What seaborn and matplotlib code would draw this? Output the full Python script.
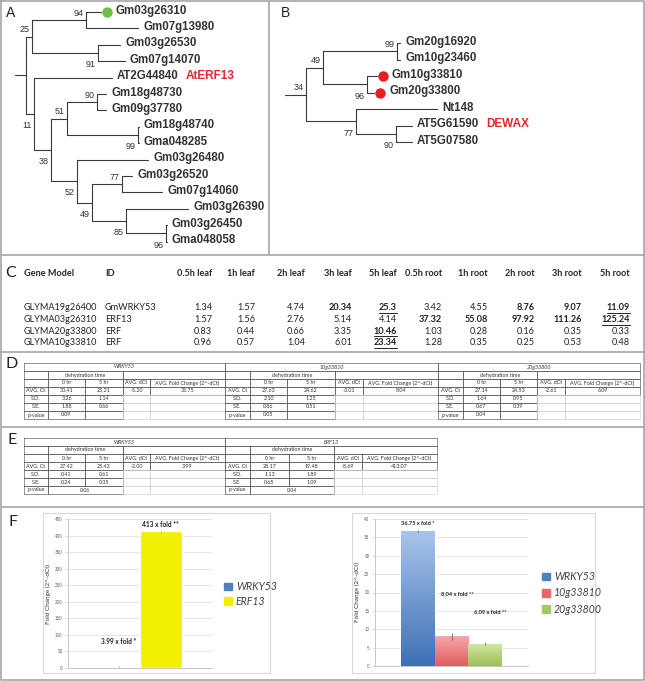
import numpy as np
import pandas as pd
import matplotlib
matplotlib.use("Agg")
import matplotlib.pyplot as plt
import seaborn as sns
from matplotlib.patches import Patch
from matplotlib.colors import LinearSegmentedColormap

# ---------------- data ----------------
# trees: (support, branch length, children) / (leaf name, branch length)
tree_a = ("", 11, [
    ("25", 6, [
        ("94", 54, [("Gm03g26310", 15), ("Gm07g13980", 52)]),
        ("91", 66, [("Gm03g26530", 22), ("Gm07g14070", 27)]),
    ]),
    ("11", 8, [
        ("AT2G44840", 78),
        ("38", 17, [
            ("51", 16, [
                ("90", 30, [("Gm18g48730", 9), ("Gm09g37780", 9)]),
                ("99", 71, [("Gm18g48740", 1), ("Gma048285", 1)]),
            ]),
            ("52", 26, [
                ("Gm03g26480", 71),
                ("49", 15, [
                    ("77", 30, [("Gm03g26520", 10), ("Gm07g14060", 40)]),
                    ("85", 34, [
                        ("Gm03g26390", 62),
                        ("96", 40, [("Gm03g26450", 1), ("Gma048058", 1)]),
                    ]),
                ]),
            ]),
        ]),
    ]),
])
tree_b = ("34", 21, [
    ("49", 17, [
        ("99", 74, [("Gm20g16920", 3), ("Gm10g23460", 3)]),
        ("96", 44, [("Gm10g33810", 10), ("Gm20g33800", 7)]),
    ]),
    ("77", 50, [
        ("Nt148", 81),
        ("90", 40, [("AT5G61590", 16), ("AT5G07580", 16)]),
    ]),
])
marked_leaves = {"Gm03g26310": "#6DBE45", "Gm10g33810": "#E61E25", "Gm20g33800": "#E61E25"}
ref_names = {"AT2G44840": "AtERF13", "AT5G61590": "DEWAX"}

# panel C
c_header = ["0.5h leaf", "1h leaf", "2h leaf", "3h leaf", "5h leaf",
            "0.5h root", "1h root", "2h root", "3h root", "5h root"]
gene_models = ["GLYMA19g26400", "GLYMA03g26310", "GLYMA20g33800", "GLYMA10g33810"]
gene_ids = ["GmWRKY53", "ERF13", "ERF", "ERF"]
expr = [
    [1.34, 1.57, 4.74, 20.34, 25.3, 3.42, 4.55, 8.76, 9.07, 11.09],
    [1.57, 1.56, 2.76, 5.14, 4.14, 37.32, 55.08, 97.92, 111.26, 125.24],
    [0.83, 0.44, 0.66, 3.35, 10.46, 1.03, 0.28, 0.16, 0.35, 0.33],
    [0.96, 0.57, 1.04, 6.01, 23.34, 1.28, 0.35, 0.25, 0.53, 0.48],
]
# 0 plain, 1 bold, 2 bold + underline
expr_mark = [
    [0, 0, 0, 1, 2, 0, 0, 1, 1, 2],
    [0, 0, 0, 0, 0, 1, 1, 1, 1, 2],
    [0, 0, 0, 0, 2, 0, 0, 0, 0, 0],
    [0, 0, 0, 0, 2, 0, 0, 0, 0, 0],
]

# panel D (leaf dehydration)
d_genes = ["WRKY53", "10g33810", "20g33800"]
d_ct0 = [30.41, 27.63, 27.14]
d_ct5 = [25.21, 24.62, 24.53]
d_dct = [-5.20, -3.01, -2.61]
d_fold = [36.75, 8.04, 6.09]
d_sd0 = [3.26, 2.10, 1.64]
d_sd5 = [1.14, 1.25, 0.95]
d_se0 = [1.88, 0.86, 0.67]
d_se5 = [0.66, 0.51, 0.39]
d_p = [0.09, 0.05, 0.04]

# panel E (root dehydration)
e_genes = ["WRKY53", "ERF13"]
e_ct0 = [27.42, 28.17]
e_ct5 = [25.42, 19.48]
e_dct = [-2.00, -8.69]
e_fold = [3.99, 413.07]
e_sd0 = [0.41, 1.13]
e_sd5 = [0.61, 1.89]
e_se0 = [0.24, 0.65]
e_se5 = [0.35, 1.09]
e_p = [0.06, 0.04]

# panel F
f_left_err = [0.8, 1.2]
f_left_labels = ["3.99 x fold *", "413 x fold **"]
f_right_err = [0.2, 0.9, 0.45]
f_right_labels = ["36.75 x fold *", "8.04 x fold **", "6.09 x fold **"]

# ---------------- style ----------------
sns.set_style("white")
plt.rcParams["font.family"] = ["Liberation Sans", "DejaVu Sans"]
W, H = 645, 681
fig = plt.figure(figsize=(W / 100, H / 100), dpi=100)
canvas = fig.add_axes([0, 0, 1, 1])
canvas.set_xlim(0, W)
canvas.set_ylim(H, 0)
canvas.axis("off")


def px_axes(x0, y0, x1, y1):
    return fig.add_axes([x0 / W, 1 - y1 / H, (x1 - x0) / W, (y1 - y0) / H])


# panel frames
fk = dict(color="#A6A6A6", lw=1.2)
canvas.plot([1, W - 1, W - 1, 1, 1], [1, 1, H - 1, H - 1, 1], **fk)
canvas.plot([269, 269], [1, 255], **fk)
for yy in [255, 352, 427, 507]:
    canvas.plot([1, W - 1], [yy, yy], **fk)

for lab, x, y, fs in [("A", 11, 13, 10), ("B", 286, 13, 10)]:
    canvas.text(x, y, lab, fontsize=fs, ha="center", va="center", color="#222222")
for lab, x, y in [("C", 11, 273), ("D", 12, 364), ("E", 12, 440), ("F", 13, 522)]:
    canvas.text(x, y, lab, fontsize=11.5, ha="center", va="center", color="#222222", family="Lato")

# ---------------- trees ----------------
TREE_C = "#3a3a3a"


def draw_tree(ax, node, x0, counter, upper=True):
    name, bl = node[0], node[1]
    x1 = x0 + bl
    if len(node) == 2:
        y = counter[0]
        counter[0] += 1
        ax.plot([x0, x1], [y, y], color=TREE_C, lw=0.8)
        tx = x1 + 5
        if name in marked_leaves:
            ax.plot(x1 + 6, y, "o", ms=7.5, color=marked_leaves[name], mec="none")
            tx = x1 + 15
        ax.text(tx, y - 0.08, name, fontsize=8.3, fontweight="bold", color="#333333",
                ha="left", va="center")
        if name in ref_names:
            ax.text(x1 + 74, y - 0.08, ref_names[name], fontsize=8.5, fontweight="bold",
                    color="#E8262B", ha="left", va="center")
        return y
    ys = [draw_tree(ax, ch, x1, counter, i == 0) for i, ch in enumerate(node[2])]
    y = (ys[0] + ys[-1]) / 2
    ax.plot([x0, x1], [y, y], color=TREE_C, lw=0.8)
    ax.plot([x1, x1], [ys[0], ys[-1]], color=TREE_C, lw=0.8)
    if name:
        ax.text(x1 - 2, y - 0.42 if upper else y + 0.72, name, fontsize=6.5,
                color="#333333", ha="right", va="center")
    return y


ax_a = px_axes(0, 0, 269, 255)
ax_a.set_xlim(-15, 254)
ax_a.set_ylim(243 / 16.4, -12 / 16.4)
ax_a.axis("off")
draw_tree(ax_a, tree_a, 0, [0])

ax_b = px_axes(270, 0, 645, 255)
ax_b.set_xlim(-15, 360)
ax_b.set_ylim(212 / 16.5, -43 / 16.5)
ax_b.axis("off")
draw_tree(ax_b, tree_b, 0, [0])

# ---------------- panel C ----------------
col_right = [212, 255, 305, 352, 397, 442, 488, 535, 582, 630]
cfs = 6.6
canvas.text(24, 273, "Gene Model", fontsize=cfs, fontweight="bold", family="Lato", va="center")
canvas.text(105, 273, "ID", fontsize=cfs, fontweight="bold", family="Lato", va="center")
for xr, h in zip(col_right, c_header):
    canvas.text(xr, 273, h, fontsize=cfs, fontweight="bold", family="Lato", ha="right", va="center")
underlined = []
row_y = [308, 319.5, 331, 342.5]
for ry, gm, gid, vals, marks in zip(row_y, gene_models, gene_ids, expr, expr_mark):
    canvas.text(24, ry, gm, fontsize=cfs, family="Lato", va="center", color="#222222")
    canvas.text(105, ry, gid, fontsize=cfs, family="Lato", va="center", color="#222222")
    for xr, v, m in zip(col_right, vals, marks):
        t = canvas.text(xr, ry, f"{v:g}", fontsize=cfs, family="Lato", ha="right", va="center",
                        fontweight="bold" if m else "normal", color="#222222")
        if m == 2:
            underlined.append(t)

# ---------------- panels D / E ----------------
LINE = "#555555"
GRID = "#D0D0D0"
tfs = 3.9


def cell(x0, x1, y0, rh, text="", border=True, style="normal", color=LINE):
    if border:
        canvas.plot([x0, x1, x1, x0, x0], [y0, y0, y0 + rh, y0 + rh, y0], color=color, lw=0.45)
    if text:
        canvas.text((x0 + x1) / 2, y0 + rh / 2, text, fontsize=tfs, ha="center", va="center",
                    style=style, family="Lato", color="#333333")


def qpcr_table(edges_list, top, genes, ct0, ct5, dct, fold, sd0, sd5, se0, se5, pv, merge_p):
    rh = 8
    for k, g in enumerate(genes):
        e = edges_list[k]
        r = [top + i * rh for i in range(7)]
        cell(e[0], e[5], r[0], rh, g, style="italic")
        cell(e[0], e[1], r[1], rh)
        cell(e[1], e[3], r[1], rh, "dehydration time")
        cell(e[3], e[5], r[1], rh)
        for c, txt in enumerate(["", "0 hr", "5 hr", "AVG. dCt", "AVG. Fold Change (2^-dCt)"]):
            cell(e[c], e[c + 1], r[2], rh, txt)
        for c, txt in enumerate(["AVG. Ct", f"{ct0[k]:.2f}", f"{ct5[k]:.2f}",
                                 f"{dct[k]:.2f}", f"{fold[k]:.2f}"]):
            cell(e[c], e[c + 1], r[3], rh, txt)
        for rr, lab, a, b in [(4, "S.D.", sd0[k], sd5[k]), (5, "S.E.", se0[k], se5[k])]:
            cell(e[0], e[1], r[rr], rh, lab)
            cell(e[1], e[2], r[rr], rh, f"{a:.2f}")
            cell(e[2], e[3], r[rr], rh, f"{b:.2f}")
        cell(e[0], e[1], r[6], rh, "p-value")
        if merge_p:
            cell(e[1], e[3], r[6], rh, f"{pv[k]:.2f}")
        else:
            cell(e[1], e[2], r[6], rh, f"{pv[k]:.2f}")
            cell(e[2], e[3], r[6], rh)
        for rr in (4, 5, 6):
            cell(e[3], e[4], r[rr], rh, color=GRID)
            cell(e[4], e[5], r[rr], rh, color=GRID)


d_edges = [[24, 48, 85, 123, 150, 225], [225, 250, 287, 335, 363, 438], [438, 463, 500, 537, 565, 640]]
e_edges = [[24, 48, 85, 123, 150, 225], [225, 250, 289, 334, 362, 437]]
qpcr_table(d_edges, 363, d_genes, d_ct0, d_ct5, d_dct, d_fold, d_sd0, d_sd5, d_se0, d_se5, d_p, False)
qpcr_table(e_edges, 438, e_genes, e_ct0, e_ct5, e_dct, e_fold, e_sd0, e_sd5, e_se0, e_se5, e_p, True)

# ---------------- panel F ----------------
for x0, x1 in [(43, 270), (352, 595)]:
    canvas.plot([x0, x1, x1, x0, x0], [513, 513, 673, 673, 513], color="#D9D9D9", lw=0.8)


def style_chart(ax, ymax, step):
    ax.set_ylim(0, ymax)
    ax.set_yticks(np.arange(0, ymax + step / 2, step))
    ax.yaxis.grid(True, color="#D9D9D9", lw=0.5)
    ax.set_axisbelow(True)
    ax.set_xlabel("")
    ax.set_xticks([])
    ax.set_ylabel("Fold Change (2^-dCt)", fontsize=4.6, labelpad=3, color="#333333", family="Lato")
    ax.tick_params(axis="y", labelsize=3.3, labelcolor="#666666", length=2, width=0.4,
                   color="#BFBFBF", pad=2, left=True)
    for s in ["top", "right"]:
        ax.spines[s].set_visible(False)
    for s in ["left", "bottom"]:
        ax.spines[s].set_color("#BFBFBF")
        ax.spines[s].set_linewidth(0.6)


def annotate_bars(ax, vals, errs, labels, offs, fs):
    for cont, v, e, lab, (dx, dy) in zip(ax.containers, vals, errs, labels, offs):
        p = cont[0]
        cx = p.get_x() + p.get_width() / 2
        ax.errorbar(cx, v, yerr=e, fmt="none", ecolor="#555555", elinewidth=0.5, capsize=0)
        ax.annotate(lab, (cx, v), xytext=(dx, dy), textcoords="offset pixels", ha="center",
                    va="center", fontsize=fs, fontweight="bold", family="Lato", color="#222222")


# left chart
left_df = pd.DataFrame({"set": ["root"] * len(e_genes), "gene": e_genes, "fold": e_fold})
left_cols = ["#4F81BD", "#F2F000"]
ax_l = px_axes(68, 519, 212, 668)
sns.barplot(data=left_df, x="set", y="fold", hue="gene", palette=left_cols, width=0.58,
            gap=0, saturation=1, errorbar=None, legend=False, ax=ax_l)
ax_l.set_xlim(-0.5, 0.5)
style_chart(ax_l, 450, 50)
annotate_bars(ax_l, e_fold, f_left_err, f_left_labels, [(0, 25), (-1, 7)], 4.7)
fig.legend([Patch(color=c) for c in left_cols], e_genes, loc="center left",
           bbox_to_anchor=(219 / W, 1 - 594 / H), frameon=False, handlelength=0.7,
           handleheight=0.7, handletextpad=0.4, labelspacing=0.35, borderpad=0,
           prop=dict(family="Lato", style="italic", size=7.6), labelcolor="#404040")

# right chart with gradient bars
right_df = pd.DataFrame({"set": ["leaf"] * len(d_genes), "gene": d_genes, "fold": d_fold})
right_cols = ["#4F81BD", "#E5666B", "#A8C864"]
right_tops = ["#A9C5EC", "#F5A7AA", "#D3E8A6"]
right_bots = ["#3E70B5", "#E25C61", "#9CBF57"]
ax_r = px_axes(375, 519, 528, 666)
sns.barplot(data=right_df, x="set", y="fold", hue="gene", palette=right_cols, width=0.66,
            gap=0, saturation=1, errorbar=None, legend=False, ax=ax_r)
ax_r.set_xlim(-0.5, 0.5)
style_chart(ax_r, 40, 5)
grad = np.linspace(0, 1, 128).reshape(-1, 1)
for cont, ct, cb in zip(ax_r.containers, right_tops, right_bots):
    p = cont[0]
    cm = LinearSegmentedColormap.from_list("g", [cb, ct])
    im = ax_r.imshow(grad, extent=[p.get_x(), p.get_x() + p.get_width(), 0, p.get_height()],
                     origin="lower", aspect="auto", cmap=cm, zorder=p.get_zorder())
    im.set_clip_path(p)
    p.set_facecolor("none")
ax_r.set_xlim(-0.5, 0.5)
ax_r.set_ylim(0, 40)
annotate_bars(ax_r, d_fold, f_right_err, f_right_labels, [(0, 7), (6, 42), (5, 31)], 4.1)
fig.legend([Patch(color=c) for c in right_cols], d_genes, loc="center left",
           bbox_to_anchor=(537 / W, 1 - 593 / H), frameon=False, handlelength=0.7,
           handleheight=0.7, handletextpad=0.4, labelspacing=0.5, borderpad=0,
           prop=dict(family="Lato", style="italic", size=7.6), labelcolor="#404040")

# underline emphasised values in panel C
fig.canvas.draw()
rend = fig.canvas.get_renderer()
inv = canvas.transData.inverted()
for t in underlined:
    bb = t.get_window_extent(rend)
    (xa, ya), (xb, yb) = inv.transform([[bb.x0, bb.y0], [bb.x1, bb.y1]])
    yl = max(ya, yb) + 0.6
    canvas.plot([xa, xb], [yl, yl], color="#222222", lw=0.7)

fig.savefig("out.png", dpi=100)
